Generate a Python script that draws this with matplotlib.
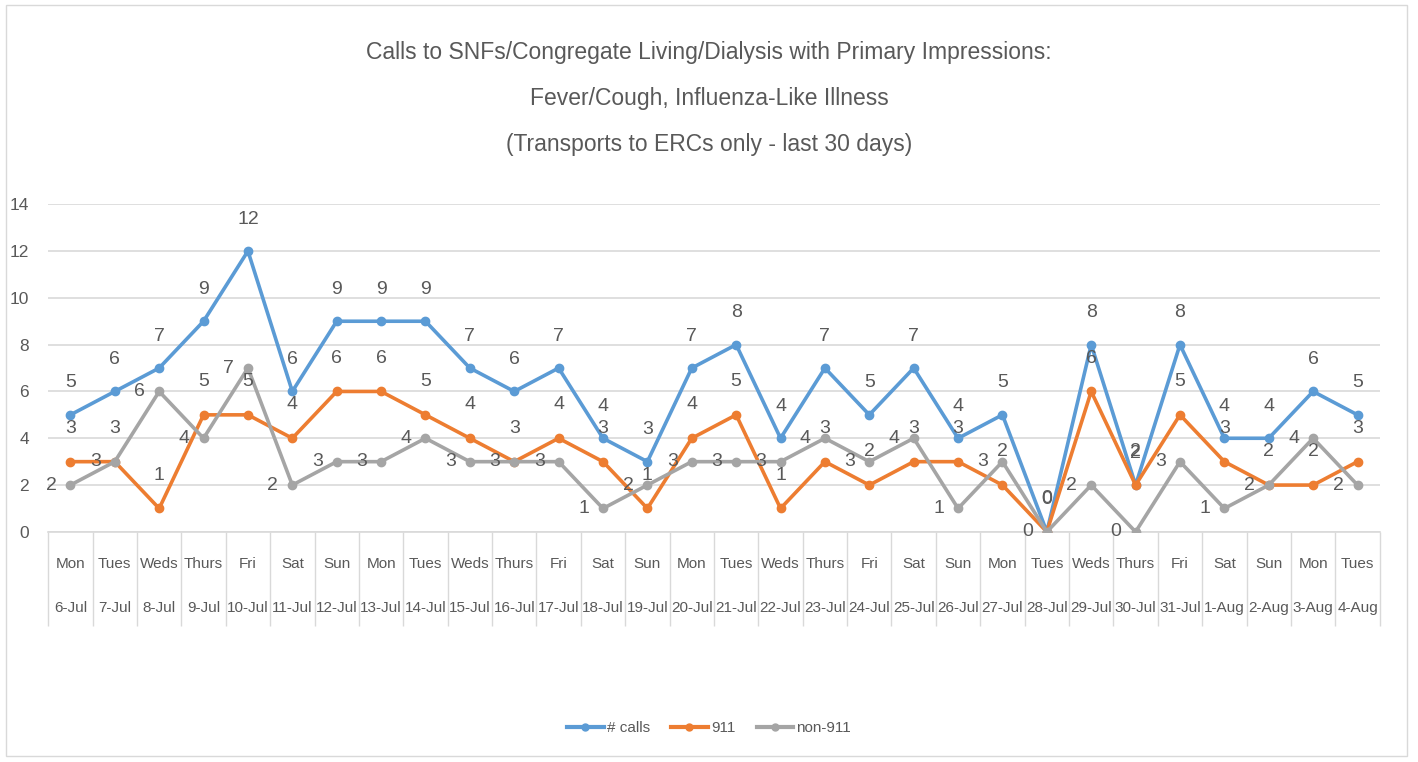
import matplotlib
matplotlib.use("Agg")
import matplotlib.pyplot as plt
from matplotlib.lines import Line2D
from matplotlib.patches import Rectangle

# -------------------------------
# Data
# -------------------------------
days = ["Mon", "Tues", "Weds", "Thurs", "Fri", "Sat", "Sun",
        "Mon", "Tues", "Weds", "Thurs", "Fri", "Sat", "Sun",
        "Mon", "Tues", "Weds", "Thurs", "Fri", "Sat", "Sun",
        "Mon", "Tues", "Weds", "Thurs", "Fri", "Sat", "Sun",
        "Mon", "Tues"]
dates = ["6-Jul", "7-Jul", "8-Jul", "9-Jul", "10-Jul", "11-Jul", "12-Jul",
         "13-Jul", "14-Jul", "15-Jul", "16-Jul", "17-Jul", "18-Jul", "19-Jul",
         "20-Jul", "21-Jul", "22-Jul", "23-Jul", "24-Jul", "25-Jul", "26-Jul",
         "27-Jul", "28-Jul", "29-Jul", "30-Jul", "31-Jul", "1-Aug", "2-Aug",
         "3-Aug", "4-Aug"]
calls = [5, 6, 7, 9, 12, 6, 9, 9, 9, 7, 6, 7, 4, 3, 7,
         8, 4, 7, 5, 7, 4, 5, 0, 8, 2, 8, 4, 4, 6, 5]
calls_911 = [3, 3, 1, 5, 5, 4, 6, 6, 5, 4, 3, 4, 3, 1, 4,
             5, 1, 3, 2, 3, 3, 2, 0, 6, 2, 5, 3, 2, 2, 3]
non_911 = [2, 3, 6, 4, 7, 2, 3, 3, 4, 3, 3, 3, 1, 2, 3,
           3, 3, 4, 3, 4, 1, 3, 0, 2, 0, 3, 1, 2, 4, 2]

title = ("Calls to SNFs/Congregate Living/Dialysis with Primary Impressions:\n"
         "Fever/Cough, Influenza-Like Illness\n"
         "(Transports to ERCs only - last 30 days)")

# -------------------------------
# Style
# -------------------------------
plt.rcParams['font.family'] = ['Liberation Sans', 'DejaVu Sans']
text_col = '#595959'
grid_col = '#D9D9D9'
blue, orange, gray = '#5B9BD5', '#ED7D31', '#A5A5A5'

fig = plt.figure(figsize=(14.18, 7.62), dpi=100)
fig.patches.append(Rectangle((0.004, 0.008), 0.988, 0.986, transform=fig.transFigure,
                             fill=False, edgecolor=grid_col, linewidth=1))
ax = fig.add_axes([0.034, 0.302, 0.939, 0.43])

x = list(range(len(days)))
# label offsets (points): calls above, 911 above, non-911 to the left
series = [
    (calls, blue, '# calls', (0, 23)),
    (calls_911, orange, '911', (0, 24)),
    (non_911, gray, 'non-911', (-14, 0)),
]
for vals, col, lab, off in series:
    ax.plot(x, vals, color=col, linewidth=2.6, marker='o', markersize=6,
            label=lab, zorder=3)
    for xi, v in zip(x, vals):
        ax.annotate(str(v), (xi, v), xytext=off, textcoords='offset points',
                    ha='center', va='center', fontsize=14, color=text_col,
                    zorder=4)

ax.set_xlim(-0.5, len(days) - 0.5)
ax.set_ylim(0, 14)
ax.set_yticks(range(0, 15, 2))
ax.yaxis.grid(True, color=grid_col, linewidth=1.2)
ax.set_axisbelow(True)
for s in ['top', 'right', 'left']:
    ax.spines[s].set_visible(False)
ax.spines['bottom'].set_color(grid_col)
ax.spines['bottom'].set_linewidth(1.2)
ax.tick_params(axis='y', length=0, labelsize=12.5, labelcolor=text_col, pad=14)

# category labels in two rows, separated by boundary lines
ax.set_xticks(x)
ax.set_xticklabels([f"{d}\n\n{dt}" for d, dt in zip(days, dates)],
                   linespacing=1.75)
ax.tick_params(axis='x', which='major', length=0, labelsize=11,
               labelcolor=text_col, pad=18)
ax.set_xticks([i - 0.5 for i in range(len(days) + 1)], minor=True)
ax.tick_params(axis='x', which='minor', length=68, color=grid_col, width=1)

fig.text(0.5, 0.946, title, ha='center', va='top', fontsize=16.5,
         color=text_col, linespacing=2.27)

handles = [Line2D([], [], color=c, linewidth=3, marker='o', markersize=5)
           for c in (blue, orange, gray)]
fig.legend(handles, ['# calls', '911', 'non-911'], loc='center',
           bbox_to_anchor=(0.5, 0.044), ncol=3, frameon=False, fontsize=11,
           labelcolor=text_col, handlelength=2.4, handletextpad=0.2,
           columnspacing=1.4)

fig.savefig('out.png', dpi=100)
